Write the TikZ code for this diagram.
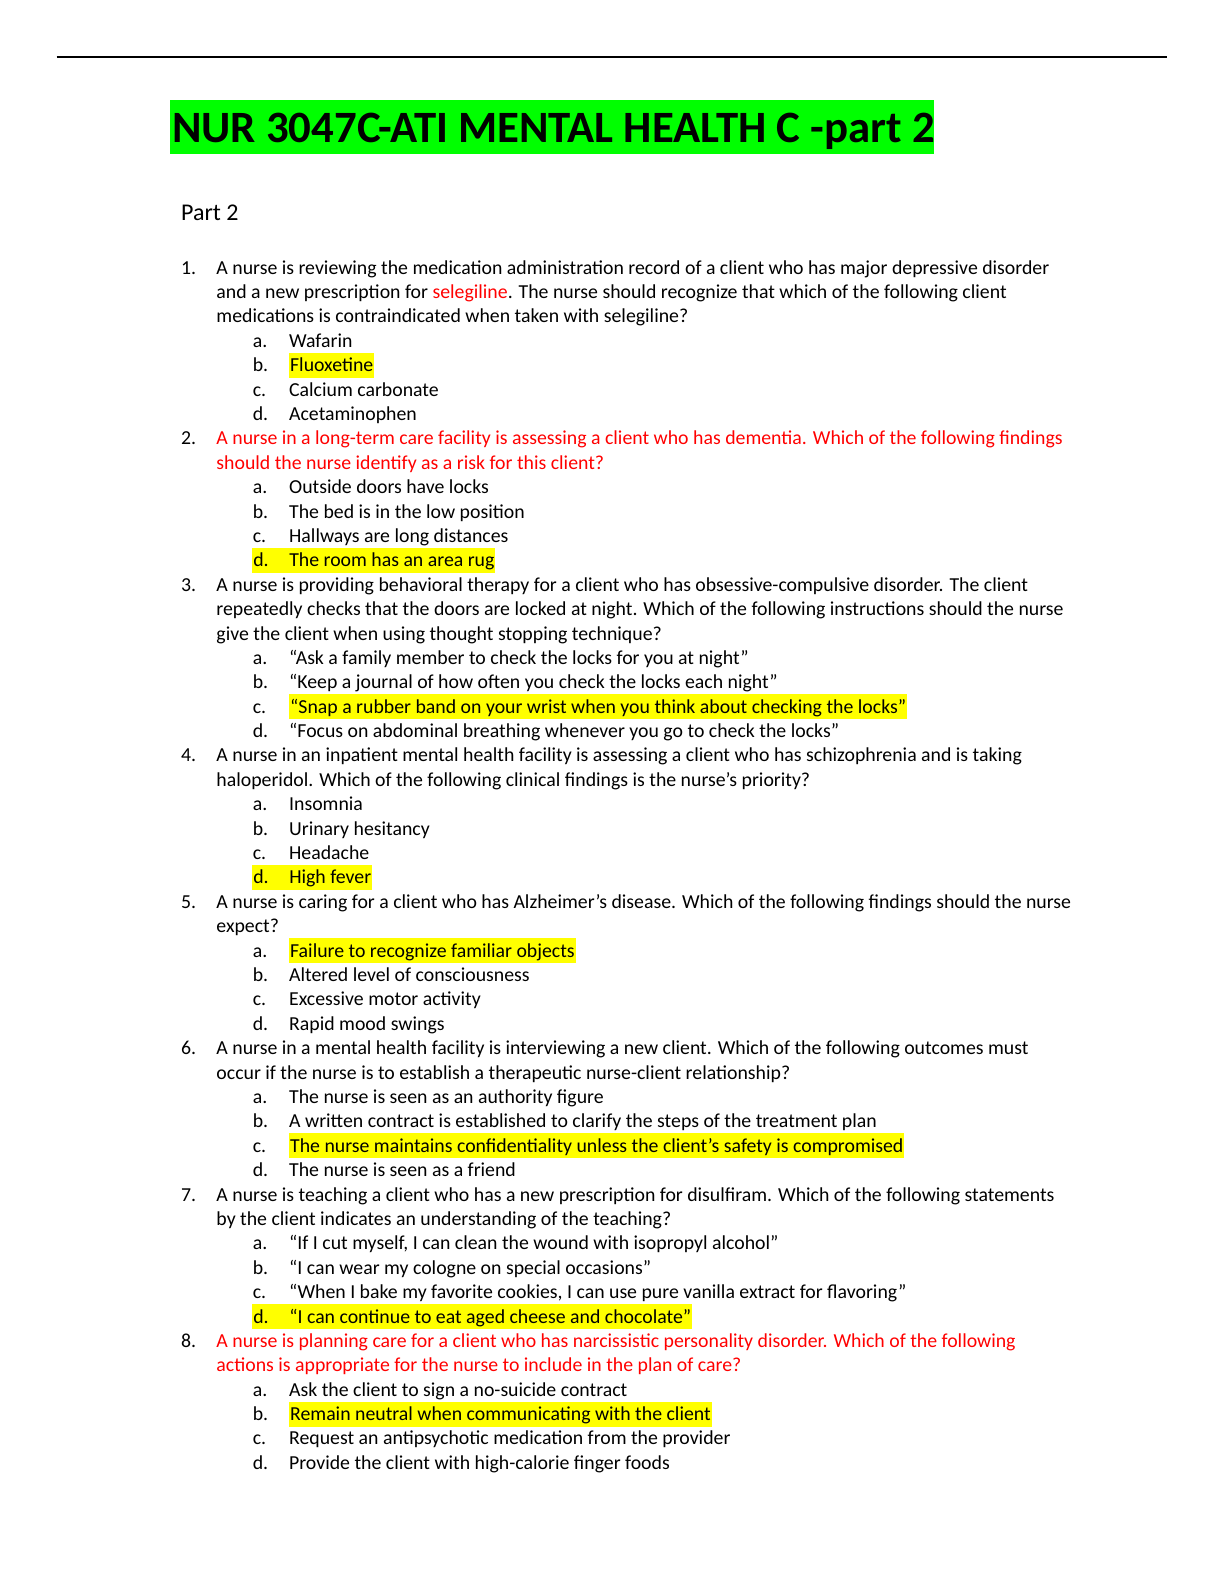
\documentclass[tikz,border=0pt]{standalone}
\usepackage{fontspec}
\setmainfont{Carlito}
\usepackage{xcolor}
\definecolor{hlgreen}{RGB}{0,255,0}
\definecolor{hlyellow}{RGB}{255,255,0}
\definecolor{qred}{RGB}{255,0,0}
\newcommand\ly[1]{{271.5+24.16*#1}}
\begin{document}
\begin{tikzpicture}[x=0.5048pt,y=-0.5048pt,
  txt/.style={anchor=base west,inner sep=0pt,font=\fontsize{9.9}{12}\selectfont},
  hlbox/.style={fill=hlyellow,inner xsep=0.5pt,inner ysep=0pt,text height=9.4pt,text depth=3pt},
  redq/.style={text=qred}]
\useasboundingbox (0,0) rectangle (1212.4,1568.9);
\fill[white] (0,0) rectangle (1212.4,1568.9);
\coordinate (rl) at (56,56);
\coordinate (rr) at (1156,56);
\draw[line width=1pt] (rl) -- (rr);
\fill[hlgreen] (168,99) rectangle (925,153);
\node[anchor=base west,inner sep=0pt,font=\fontsize{22.4}{26}\bfseries] (title) at (170,141.5) {NUR 3047C-ATI MENTAL HEALTH C -part 2};
\node[txt,font=\fontsize{12}{14}\selectfont] (part) at (179,218) {Part 2};
% Q1
\node[txt] (n1) at (179,\ly{0}) {1.};
\node[txt] (q1a) at (214,\ly{0}) {A nurse is reviewing the medication administration record of a client who has major depressive disorder};
\node[txt] (q1b) at (214,\ly{1}) {and a new prescription for \textcolor{qred}{selegiline}. The nurse should recognize that which of the following client};
\node[txt] (q1c) at (214,\ly{2}) {medications is contraindicated when taken with selegiline?};
\node[txt] (l1a) at (250,\ly{3}) {a.}; \node[txt] (a1a) at (286,\ly{3}) {Wafarin};
\node[txt] (l1b) at (250,\ly{4}) {b.}; \node[txt,hlbox] (a1b) at (286,\ly{4}) {Fluoxetine};
\node[txt] (l1c) at (250,\ly{5}) {c.}; \node[txt] (a1c) at (286,\ly{5}) {Calcium carbonate};
\node[txt] (l1d) at (250,\ly{6}) {d.}; \node[txt] (a1d) at (286,\ly{6}) {Acetaminophen};
% Q2
\node[txt] (n2) at (179,\ly{7}) {2.};
\node[txt,redq] (q2a) at (214,\ly{7}) {A nurse in a long-term care facility is assessing a client who has dementia. Which of the following findings};
\node[txt,redq] (q2b) at (214,\ly{8}) {should the nurse identify as a risk for this client?};
\node[txt] (l2a) at (250,\ly{9}) {a.}; \node[txt] (a2a) at (286,\ly{9}) {Outside doors have locks};
\node[txt] (l2b) at (250,\ly{10}) {b.}; \node[txt] (a2b) at (286,\ly{10}) {The bed is in the low position};
\node[txt] (l2c) at (250,\ly{11}) {c.}; \node[txt] (a2c) at (286,\ly{11}) {Hallways are long distances};
\node[txt,hlbox] (a2d) at (249.5,\ly{12}) {\makebox[18pt][l]{d.}The room has an area rug};
% Q3
\node[txt] (n3) at (179,\ly{13}) {3.};
\node[txt] (q3a) at (214,\ly{13}) {A nurse is providing behavioral therapy for a client who has obsessive-compulsive disorder. The client};
\node[txt] (q3b) at (214,\ly{14}) {repeatedly checks that the doors are locked at night. Which of the following instructions should the nurse};
\node[txt] (q3c) at (214,\ly{15}) {give the client when using thought stopping technique?};
\node[txt] (l3a) at (250,\ly{16}) {a.}; \node[txt] (a3a) at (286,\ly{16}) {“Ask a family member to check the locks for you at night”};
\node[txt] (l3b) at (250,\ly{17}) {b.}; \node[txt] (a3b) at (286,\ly{17}) {“Keep a journal of how often you check the locks each night”};
\node[txt] (l3c) at (250,\ly{18}) {c.}; \node[txt,hlbox] (a3c) at (286,\ly{18}) {“Snap a rubber band on your wrist when you think about checking the locks”};
\node[txt] (l3d) at (250,\ly{19}) {d.}; \node[txt] (a3d) at (286,\ly{19}) {“Focus on abdominal breathing whenever you go to check the locks”};
% Q4
\node[txt] (n4) at (179,\ly{20}) {4.};
\node[txt] (q4a) at (214,\ly{20}) {A nurse in an inpatient mental health facility is assessing a client who has schizophrenia and is taking};
\node[txt] (q4b) at (214,\ly{21}) {haloperidol. Which of the following clinical findings is the nurse’s priority?};
\node[txt] (l4a) at (250,\ly{22}) {a.}; \node[txt] (a4a) at (286,\ly{22}) {Insomnia};
\node[txt] (l4b) at (250,\ly{23}) {b.}; \node[txt] (a4b) at (286,\ly{23}) {Urinary hesitancy};
\node[txt] (l4c) at (250,\ly{24}) {c.}; \node[txt] (a4c) at (286,\ly{24}) {Headache};
\node[txt,hlbox] (a4d) at (249.5,\ly{25}) {\makebox[18pt][l]{d.}High fever};
% Q5
\node[txt] (n5) at (179,\ly{26}) {5.};
\node[txt] (q5a) at (214,\ly{26}) {A nurse is caring for a client who has Alzheimer’s disease. Which of the following findings should the nurse};
\node[txt] (q5b) at (214,\ly{27}) {expect?};
\node[txt] (l5a) at (250,\ly{28}) {a.}; \node[txt,hlbox] (a5a) at (286,\ly{28}) {Failure to recognize familiar objects};
\node[txt] (l5b) at (250,\ly{29}) {b.}; \node[txt] (a5b) at (286,\ly{29}) {Altered level of consciousness};
\node[txt] (l5c) at (250,\ly{30}) {c.}; \node[txt] (a5c) at (286,\ly{30}) {Excessive motor activity};
\node[txt] (l5d) at (250,\ly{31}) {d.}; \node[txt] (a5d) at (286,\ly{31}) {Rapid mood swings};
% Q6
\node[txt] (n6) at (179,\ly{32}) {6.};
\node[txt] (q6a) at (214,\ly{32}) {A nurse in a mental health facility is interviewing a new client. Which of the following outcomes must};
\node[txt] (q6b) at (214,\ly{33}) {occur if the nurse is to establish a therapeutic nurse-client relationship?};
\node[txt] (l6a) at (250,\ly{34}) {a.}; \node[txt] (a6a) at (286,\ly{34}) {The nurse is seen as an authority figure};
\node[txt] (l6b) at (250,\ly{35}) {b.}; \node[txt] (a6b) at (286,\ly{35}) {A written contract is established to clarify the steps of the treatment plan};
\node[txt] (l6c) at (250,\ly{36}) {c.}; \node[txt,hlbox] (a6c) at (286,\ly{36}) {The nurse maintains confidentiality unless the client’s safety is compromised};
\node[txt] (l6d) at (250,\ly{37}) {d.}; \node[txt] (a6d) at (286,\ly{37}) {The nurse is seen as a friend};
% Q7
\node[txt] (n7) at (179,\ly{38}) {7.};
\node[txt] (q7a) at (214,\ly{38}) {A nurse is teaching a client who has a new prescription for disulfiram. Which of the following statements};
\node[txt] (q7b) at (214,\ly{39}) {by the client indicates an understanding of the teaching?};
\node[txt] (l7a) at (250,\ly{40}) {a.}; \node[txt] (a7a) at (286,\ly{40}) {“If I cut myself, I can clean the wound with isopropyl alcohol”};
\node[txt] (l7b) at (250,\ly{41}) {b.}; \node[txt] (a7b) at (286,\ly{41}) {“I can wear my cologne on special occasions”};
\node[txt] (l7c) at (250,\ly{42}) {c.}; \node[txt] (a7c) at (286,\ly{42}) {“When I bake my favorite cookies, I can use pure vanilla extract for flavoring”};
\node[txt,hlbox] (a7d) at (249.5,\ly{43}) {\makebox[18pt][l]{d.}“I can continue to eat aged cheese and chocolate”};
% Q8
\node[txt] (n8) at (179,\ly{44}) {8.};
\node[txt,redq] (q8a) at (214,\ly{44}) {A nurse is planning care for a client who has narcissistic personality disorder. Which of the following};
\node[txt,redq] (q8b) at (214,\ly{45}) {actions is appropriate for the nurse to include in the plan of care?};
\node[txt] (l8a) at (250,\ly{46}) {a.}; \node[txt] (a8a) at (286,\ly{46}) {Ask the client to sign a no-suicide contract};
\node[txt] (l8b) at (250,\ly{47}) {b.}; \node[txt,hlbox] (a8b) at (286,\ly{47}) {Remain neutral when communicating with the client};
\node[txt] (l8c) at (250,\ly{48}) {c.}; \node[txt] (a8c) at (286,\ly{48}) {Request an antipsychotic medication from the provider};
\node[txt] (l8d) at (250,\ly{49}) {d.}; \node[txt] (a8d) at (286,\ly{49}) {Provide the client with high-calorie finger foods};
\end{tikzpicture}
\end{document}
